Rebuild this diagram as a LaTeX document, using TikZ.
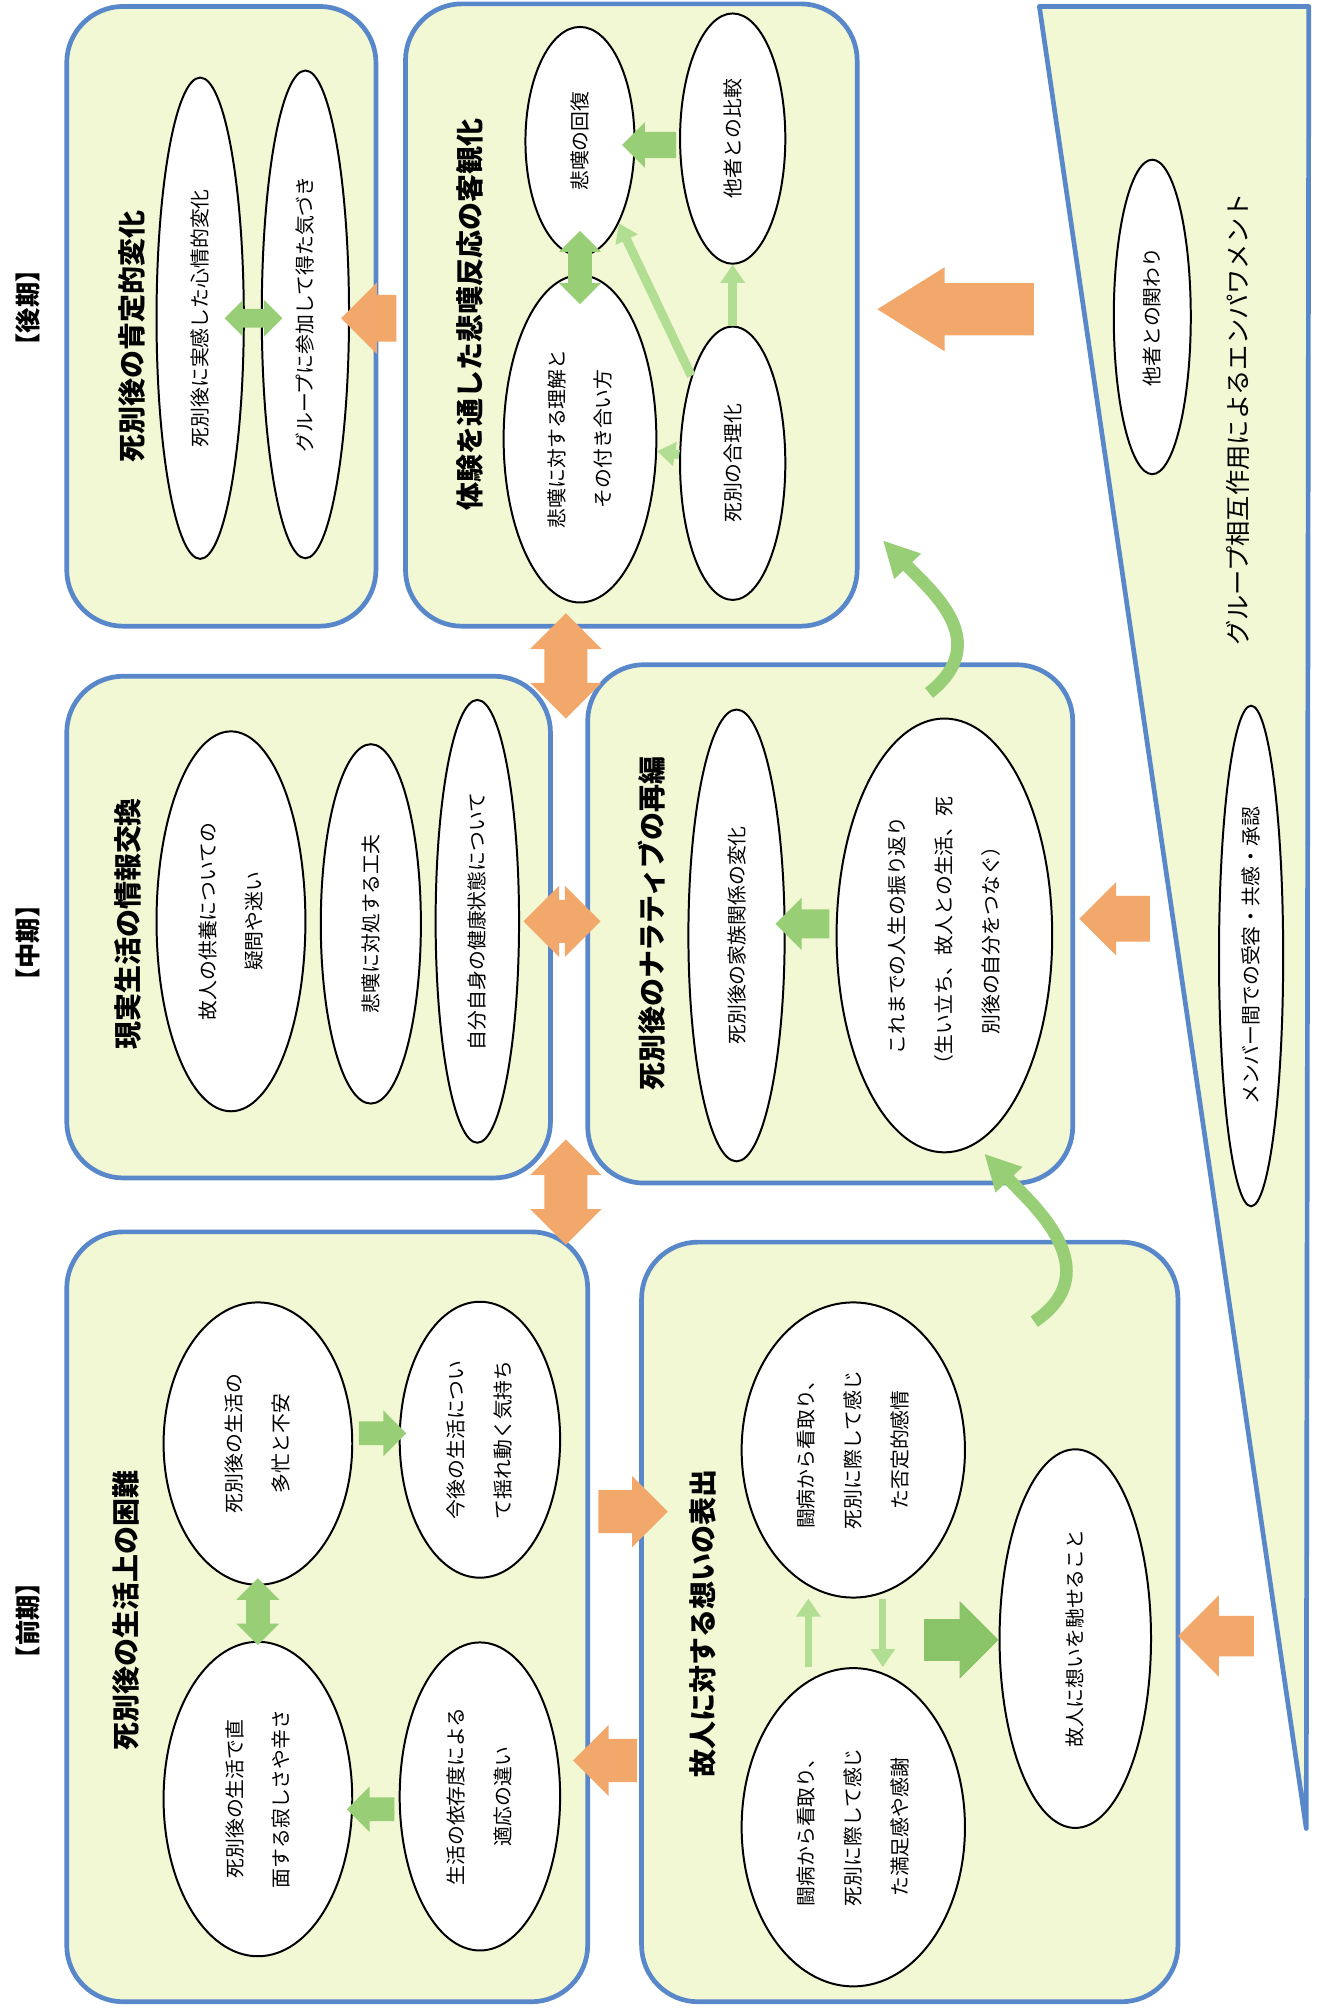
\documentclass[tikz,border=0pt]{standalone}
\usepackage{fontspec}
\setmainfont{Noto Sans CJK JP}
\usepackage{tikz}
\usetikzlibrary{shapes, arrows.meta, calc, positioning, fit}

\definecolor{boxfill}{RGB}{242,247,212}
\definecolor{boxline}{RGB}{88,135,202}
\definecolor{orangeC}{RGB}{241,168,106}
\definecolor{greenC}{RGB}{152,206,118}
\definecolor{greenL}{RGB}{178,222,148}
\definecolor{greenD}{RGB}{138,196,104}

\begin{document}
\begin{tikzpicture}[x=0.025cm,y=-0.025cm,
    phasebox/.style={draw=boxline,line width=2.6pt,fill=boxfill,rounded corners=1.1cm,inner sep=0pt},
    bubble/.style={ellipse,draw=black,line width=1.1pt,fill=white,inner sep=0pt,rotate=90,align=center,font=\fontsize{11}{26}\selectfont},
    heading/.style={rotate=90,font=\fontsize{15.5}{17}\selectfont\bfseries},
    period/.style={rotate=90,font=\fontsize{14}{16}\selectfont\bfseries},
    oarrow/.style={single arrow,fill=orangeC,draw=none,inner xsep=0pt},
    odarrow/.style={double arrow,fill=orangeC,draw=none,inner xsep=0pt},
    garrow/.style={single arrow,fill=greenC,draw=none,inner xsep=0pt},
    gdarrow/.style={double arrow,fill=greenC,draw=none,inner xsep=0pt},
    gline/.style={draw=greenL,line width=5pt,-{Triangle[width=13pt,length=10pt]}},
    gcurve/.style={draw=greenC,line width=7pt,-{Triangle[width=19pt,length=20pt]}}]

    \useasboundingbox (0,0) rectangle (1026,1568);

    \node[period] (p_late) at (22,240) {【後期】};
    \node[period] (p_mid) at (22,735) {【中期】};
    \node[period] (p_early) at (22,1263) {【前期】};

    \begin{scope}
        \node[phasebox,fit={(52,5) (293,488)}] (b_late1) {};
        \node[phasebox,fit={(316,3) (668,488)}] (b_late2) {};
        \node[phasebox,fit={(52,527) (429,918)}] (b_mid1) {};
        \node[phasebox,fit={(458,518) (836,922)}] (b_mid2) {};
        \node[phasebox,fit={(52,960) (458,1560)}] (b_early1) {};
        \node[phasebox,fit={(500,968) (918,1560)}] (b_early2) {};
        \draw[phasebox,sharp corners,line join=round] (810,5) -- (1020,5) -- (1018,1425) -- cycle;
    \end{scope}

    \node[heading] (t_late1) at (103,262) {死別後の肯定的変化};
    \node[heading] (t_late2) at (366,245) {体験を通した悲嘆反応の客観化};
    \node[heading] (t_mid1) at (100,720) {現実生活の情報交換};
    \node[heading] (t_mid2) at (508,720) {死別後のナラティブの再編};
    \node[heading] (t_early1) at (98,1255) {死別後の生活上の困難};
    \node[heading] (t_early2) at (548,1265) {故人に対する想いの表出};
    \node[rotate=90,font=\fontsize{14}{16}\selectfont] (t_group) at (965,327) {グループ相互作用によるエンパワメント};

    \begin{scope}
        \node[bubble,minimum width=9.375cm,minimum height=1.7cm] (e_11) at (156,248) {死別後に実感した心情的変化};
        \node[bubble,minimum width=9.5cm,minimum height=1.7cm] (e_12) at (238,245) {グループに参加して得た気づき};

        \node[bubble,minimum width=4.45cm,minimum height=2.125cm] (e_21) at (452,110) {悲嘆の回復};
        \node[bubble,minimum width=4.875cm,minimum height=2.05cm] (e_22) at (571,108) {他者との比較};
        \node[bubble,minimum width=6.375cm,minimum height=2.975cm] (e_23) at (452,342) {悲嘆に対する理解と\\その付き合い方};
        \node[bubble,minimum width=5.325cm,minimum height=2.05cm] (e_24) at (571,361) {死別の合理化};

        \node[bubble,minimum width=7.4cm,minimum height=2.9cm] (m_11) at (180,718) {故人の供養についての\\疑問や迷い};
        \node[bubble,minimum width=7cm,minimum height=1.95cm] (m_12) at (289,720) {悲嘆に対処する工夫};
        \node[bubble,minimum width=8.625cm,minimum height=1.625cm] (m_13) at (372,718) {自分自身の健康状態について};

        \node[bubble,minimum width=8.8cm,minimum height=1.875cm] (m_21) at (574,729) {死別後の家族関係の変化};
        \node[bubble,minimum width=8.45cm,minimum height=4.2cm] (m_22) at (736,729) {これまでの人生の振り返り\\（生い立ち、故人との生活、死\\別後の自分をつなぐ）};

        \node[bubble,minimum width=5.5cm,minimum height=3.675cm] (f_11) at (201,1125) {死別後の生活の\\多忙と不安};
        \node[bubble,minimum width=5.375cm,minimum height=3.125cm] (f_12) at (374,1122) {今後の生活につい\\て揺れ動く気持ち};
        \node[bubble,minimum width=6.125cm,minimum height=3.675cm] (f_13) at (201,1402) {死別後の生活で直\\面する寂しさや辛さ};
        \node[bubble,minimum width=6cm,minimum height=3.125cm] (f_14) at (374,1400) {生活の依存度による\\適応の違い};

        \node[bubble,minimum width=5.75cm,minimum height=4.35cm] (f_21) at (665,1130) {闘病から看取り、\\死別に際して感じ\\た否定的感情};
        \node[bubble,minimum width=6.2cm,minimum height=4.35cm] (f_22) at (665,1424) {闘病から看取り、\\死別に際して感じ\\た満足感や感謝};
        \node[bubble,minimum width=7.375cm,minimum height=2.95cm] (f_23) at (838,1277) {故人に想いを馳せること};

        \node[bubble,minimum width=6.125cm,minimum height=1.5cm] (g_1) at (898,247) {他者との関わり};
        \node[bubble,minimum width=9.75cm,minimum height=1.25cm] (g_2) at (975,745) {メンバー間での受容・共感・承認};
    \end{scope}

    \begin{scope}
        \node[oarrow,rotate=180,minimum height=1.075cm,inner ysep=0.45cm,single arrow head extend=0.2375cm] (o_a) at (296.5,248) {};
        \node[oarrow,rotate=180,minimum height=3.05cm,inner ysep=0.5cm,single arrow head extend=0.3125cm,single arrow tip angle=64] (o_b) at (761,241) {};
        \node[oarrow,rotate=180,minimum height=1.375cm,inner ysep=0.4375cm,single arrow head extend=0.275cm] (o_c) at (877.5,716) {};
        \node[oarrow,rotate=180,minimum height=1.475cm,inner ysep=0.3875cm,single arrow head extend=0.4cm] (o_d) at (955.5,1275) {};
        \node[oarrow,minimum height=1.35cm,inner ysep=0.4125cm,single arrow head extend=0.275cm] (o_e) at (485,1178) {};
        \node[oarrow,rotate=180,minimum height=1.25cm,inner ysep=0.4125cm,single arrow head extend=0.275cm] (o_f) at (480,1372) {};
        \node[odarrow,rotate=90,minimum height=2.05cm,inner ysep=0.4125cm,double arrow head extend=0.275cm] (o_g) at (441,519) {};
        \node[odarrow,rotate=90,minimum height=2.05cm,inner ysep=0.4125cm,double arrow head extend=0.275cm] (o_h) at (441,929) {};
        \node[odarrow,minimum height=1.5cm,inner ysep=0.4125cm,double arrow head extend=0.275cm] (o_i) at (438,718) {};
    \end{scope}

    \begin{scope}
        \node[gdarrow,minimum height=1.125cm,inner ysep=0.175cm,double arrow head extend=0.175cm] (g_a) at (197.5,248) {};
        \node[garrow,rotate=180,minimum height=1.05cm,inner ysep=0.25cm,single arrow head extend=0.1875cm] (g_b) at (511,113) {};
        \node[gdarrow,rotate=90,minimum height=1.425cm,inner ysep=0.225cm,double arrow head extend=0.175cm] (g_c) at (452,208.5) {};
        \node[garrow,rotate=180,minimum height=1.05cm,inner ysep=0.275cm,single arrow head extend=0.225cm] (g_d) at (631,720) {};
        \node[garrow,minimum height=0.925cm,inner ysep=0.225cm,single arrow head extend=0.2125cm] (g_e) at (293.5,1117) {};
        \node[gdarrow,rotate=90,minimum height=1.3cm,inner ysep=0.225cm,double arrow head extend=0.1875cm] (g_f) at (201,1256) {};
        \node[garrow,rotate=180,minimum height=0.925cm,inner ysep=0.225cm,single arrow head extend=0.2125cm] (g_g) at (293.5,1410) {};
        \node[garrow,fill=greenD,minimum height=1.45cm,inner ysep=0.4cm,single arrow head extend=0.35cm] (g_h) at (741,1278) {};
    \end{scope}

    \draw[gline] (e_24) -- (e_21);
    \draw[gline] (e_24) -- (e_22);
    \draw[gline] (e_24) -- (e_23);
    \draw[gline,line width=4pt] ([xshift=-0.875cm]f_22.east) -- ([xshift=-0.875cm]f_21.west);
    \draw[gline,line width=4pt] ([xshift=0.575cm]f_21.west) -- ([xshift=0.575cm]f_22.east);

    \coordinate (c_1) at (724,540);
    \coordinate (c_2) at (688,421);
    \coordinate (c_3) at (806,1030);
    \coordinate (c_4) at (767,899);
    \draw[gcurve] (c_1) .. controls (775,500) and (725,460) .. (c_2);
    \draw[gcurve] (c_3) .. controls (865,990) and (804,938) .. (c_4);
\end{tikzpicture}
\end{document}
